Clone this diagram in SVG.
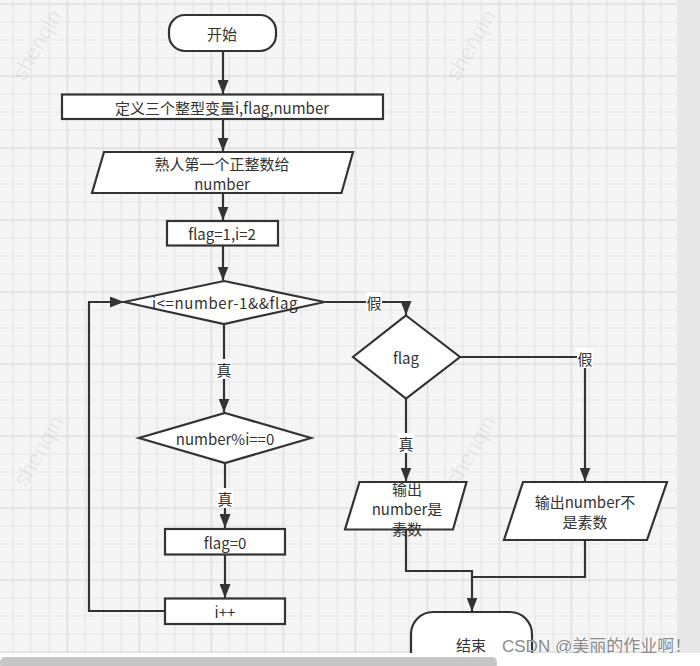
<svg xmlns="http://www.w3.org/2000/svg" width="700" height="666" viewBox="0 0 700 666">
<defs>
<pattern id="grid" patternUnits="userSpaceOnUse" x="-5.3" y="3.5" width="72" height="72">
<rect width="72" height="72" fill="#f5f5f5"/>
<path d="M18.5 0V72M36.5 0V72M54.5 0V72M0 18.5H72M0 36.5H72M0 54.5H72" stroke="#e6e6e6" stroke-width="1.2"/>
<path d="M0.5 0V72M0 0.5H72" stroke="#d9d9d9" stroke-width="1.3"/>
</pattern>
<marker id="arr" markerUnits="userSpaceOnUse" markerWidth="14" markerHeight="11" refX="14" refY="5.5" orient="auto">
<path d="M0,0 L14,5.5 L0,11 z" fill="#333"/>
</marker>
</defs>
<style>
.s{fill:#fff;stroke:#333;stroke-width:2.2}
.c{fill:none;stroke:#333;stroke-width:2.2}
.t{font-family:"Noto Sans CJK SC","Noto Sans",sans-serif;font-size:15px;fill:#333;text-anchor:middle;dominant-baseline:central}
.lb{fill:#fff}
.wm{font-family:"Liberation Sans",sans-serif;font-size:22px;fill:#000;opacity:0.05}
</style>
<rect width="700" height="666" fill="#f5f5f5"/>
<rect x="0" y="0" width="677" height="653" fill="url(#grid)"/>
<rect x="677" y="0" width="23" height="653" fill="#e8e8e8"/>

<g id="watermarks">
<text class="wm" transform="translate(24,82) rotate(-60)">shenqin</text>
<text class="wm" transform="translate(458,82) rotate(-60)">shenqin</text>
<text class="wm" transform="translate(26,488) rotate(-60)">shenqin</text>
<text class="wm" transform="translate(458,488) rotate(-60)">shenqin</text>
</g>

<g id="connectors">
<path class="c" d="M223 51V94" marker-end="url(#arr)"/>
<path class="c" d="M223 119V151.5" marker-end="url(#arr)"/>
<path class="c" d="M223 193V220.5" marker-end="url(#arr)"/>
<path class="c" d="M223 245.5V280.5" marker-end="url(#arr)"/>
<path class="c" d="M224 324.5V412.5" marker-end="url(#arr)"/>
<path class="c" d="M225 463V528" marker-end="url(#arr)"/>
<path class="c" d="M225 555V598" marker-end="url(#arr)"/>
<path class="c" d="M164 611H89V302H124" marker-end="url(#arr)"/>
<path class="c" d="M324.5 302H406V315" marker-end="url(#arr)"/>
<path class="c" d="M460 357H585V481.5" marker-end="url(#arr)"/>
<path class="c" d="M406 398.5V481.5" marker-end="url(#arr)"/>
<path class="c" d="M406 529.5V571H472V611.5" marker-end="url(#arr)"/>
<path class="c" d="M585 540V577H472"/>
<rect class="lb" x="216" y="359" width="16" height="20"/>
<text class="t" x="224" y="369">真</text>
<rect class="lb" x="217" y="488" width="16" height="20"/>
<text class="t" x="225" y="498">真</text>
<rect class="lb" x="366" y="292" width="16" height="20"/>
<text class="t" x="374" y="302">假</text>
<rect class="lb" x="577" y="348" width="16" height="20"/>
<text class="t" x="585" y="358">假</text>
<rect class="lb" x="398" y="433" width="16" height="20"/>
<text class="t" x="406" y="443">真</text>
</g>

<g id="start">
<rect class="s" x="169" y="15" width="107" height="36" rx="16"/>
<text class="t" x="222" y="33">开始</text>
</g>
<g id="define">
<rect class="s" x="62" y="94.5" width="321" height="24.5"/>
<text class="t" x="222" y="107">定义三个整型变量i,flag,number</text>
</g>
<g id="input">
<polygon class="s" points="104,152 353,152 341.5,193 92,193"/>
<text class="t" x="222" y="163">熟人第一个正整数给</text>
<text class="t" x="222" y="183">number</text>
</g>
<g id="init">
<rect class="s" x="167" y="221" width="111" height="24.5"/>
<text class="t" x="222" y="233.5">flag=1,i=2</text>
</g>
<g id="cond">
<polygon class="s" points="224,281 324.5,302 224,324 124,302"/>
<text class="t" x="225" y="302" letter-spacing="0.6">i&lt;=number-1&amp;&amp;flag</text>
</g>
<g id="mod">
<polygon class="s" points="225,413 311,438 225,463 139,438"/>
<text class="t" x="225" y="438">number%i==0</text>
</g>
<g id="setflag">
<rect class="s" x="165" y="529" width="120" height="25.5"/>
<text class="t" x="225" y="542">flag=0</text>
</g>
<g id="inc">
<rect class="s" x="165" y="598.5" width="120" height="25.5"/>
<text class="t" x="225" y="611">i++</text>
</g>
<g id="flag">
<polygon class="s" points="406,315.5 460,357 406,398.5 353,357"/>
<text class="t" x="406" y="357">flag</text>
</g>
<g id="isprime">
<polygon class="s" points="359.5,482 466.5,482 453,529.5 345,529.5"/>
<text class="t" x="407" y="488">输出</text>
<text class="t" x="407" y="508">number是</text>
<text class="t" x="407" y="528">素数</text>
</g>
<g id="notprime">
<polygon class="s" points="523,482 667,482 647,540 504,540"/>
<text class="t" x="585" y="501.5">输出number不</text>
<text class="t" x="585" y="521.5">是素数</text>
</g>
<g id="end">
<rect class="s" x="411" y="612" width="121" height="80" rx="22"/>
<text class="t" x="471" y="644">结束</text>
</g>

<text x="502" y="652" font-family="Liberation Sans, Noto Sans CJK SC, sans-serif" font-size="17" fill="#8a8a8a" stroke="#fff" stroke-width="0.6" paint-order="stroke">CSDN @美丽的作业啊！</text>

<rect x="0" y="653" width="700" height="13" fill="#fff"/>
<rect x="0" y="657" width="497" height="12" rx="5" fill="#c6c6c6"/>
</svg>
